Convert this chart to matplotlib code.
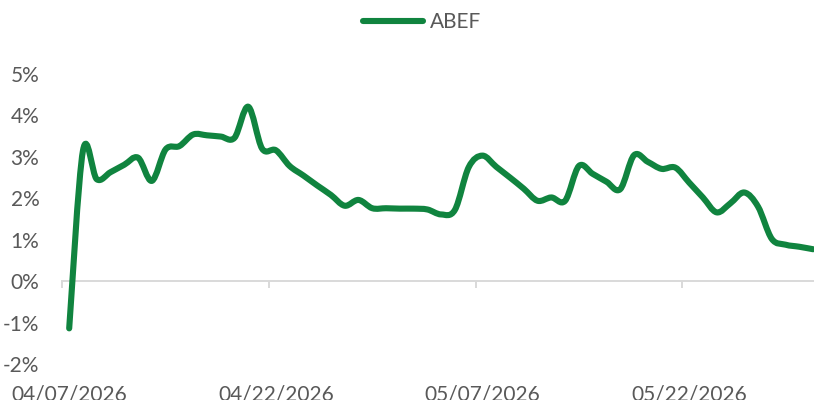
import numpy as np
import pandas as pd
import matplotlib
matplotlib.use('Agg')
import matplotlib.pyplot as plt
import matplotlib.dates as mdates
from matplotlib.path import Path
from matplotlib.patches import PathPatch
from matplotlib.lines import Line2D
from matplotlib.ticker import FuncFormatter

# -------- data (daily values, % ) --------
start_date = '2026-04-07'
series_name = 'ABEF'
abef = [
    -1.14, 3.15, 2.46, 2.63, 2.81, 2.98, 2.42, 3.18, 3.26, 3.54,
    3.52, 3.49, 3.46, 4.21, 3.20, 3.16, 2.78, 2.55, 2.31, 2.08,
    1.82, 1.96, 1.76, 1.76, 1.75, 1.75, 1.73, 1.61, 1.72, 2.75,
    3.03, 2.76, 2.50, 2.23, 1.94, 2.02, 1.94, 2.78, 2.59, 2.40,
    2.22, 3.04, 2.88, 2.71, 2.74, 2.38, 2.02, 1.66, 1.88, 2.14,
    1.80, 1.02, 0.88, 0.83, 0.77,
]
tick_dates = ['2026-04-07', '2026-04-22', '2026-05-07', '2026-05-22']
y_ticks = [-2, -1, 0, 1, 2, 3, 4, 5]

green = '#10843F'
grey_text = '#595959'
axis_grey = '#D9D9D9'

plt.rcParams['font.family'] = ['Lato', 'DejaVu Sans']

# points sit in the middle of each day (Excel date axis style)
dates = pd.date_range(start_date, periods=len(abef)) + pd.Timedelta(hours=12)
x = mdates.date2num(dates)
y = np.array(abef)

fig = plt.figure(figsize=(8.14, 4.0), dpi=100)
W, H = 814, 400
left, right, top, bottom = 62.3, 820.0, 74.0, 364.0
ax = fig.add_axes([left / W, 1 - bottom / H, (right - left) / W, (bottom - top) / H])

# smoothed line, like Excel's "smoothed line" (Catmull-Rom -> cubic Bezier)
pts = np.column_stack([x, y])
n = len(pts)
verts = [pts[0]]
codes = [Path.MOVETO]
for i in range(n - 1):
    p0, p1 = pts[i], pts[i + 1]
    pm = pts[i - 1] if i > 0 else p0
    p2 = pts[i + 2] if i + 2 < n else p1
    verts += [p0 + (p1 - pm) / 6, p1 - (p2 - p0) / 6, p1]
    codes += [Path.CURVE4] * 3
ax.add_patch(PathPatch(Path(verts, codes), facecolor='none', edgecolor=green,
                       lw=4.4, capstyle='round', joinstyle='round', zorder=3))

t0 = mdates.date2num(pd.Timestamp(start_date))
ax.set_xlim(t0, t0 + 55)
ax.set_ylim(-2, 5)

# horizontal axis line at 0 with outward ticks, labels at the bottom
for s in ['top', 'right', 'left']:
    ax.spines[s].set_visible(False)
ax.spines['bottom'].set_position(('data', 0))
ax.spines['bottom'].set_color(axis_grey)
ax.spines['bottom'].set_linewidth(1.4)
ax.set_xticks(mdates.date2num(pd.to_datetime(tick_dates)))
ax.tick_params(axis='x', direction='out', length=5, width=1.4, color=axis_grey,
               labelbottom=False)

sec = ax.secondary_xaxis('bottom')
sec.spines['bottom'].set_visible(False)
sec.set_xticks(mdates.date2num(pd.to_datetime(tick_dates) + pd.Timedelta(hours=12)))
sec.xaxis.set_major_formatter(mdates.DateFormatter('%m/%d/%Y'))
sec.tick_params(axis='x', length=0, pad=15, labelsize=15, labelcolor=grey_text)

ax.set_yticks(y_ticks)
ax.yaxis.set_major_formatter(FuncFormatter(lambda v, p: f'{v:.0f}%'))
ax.tick_params(axis='y', length=0, pad=16.5, labelsize=15, labelcolor=grey_text)

handle = Line2D([], [], color=green, lw=4.4, solid_capstyle='round')
fig.legend([handle], [series_name], loc='center', bbox_to_anchor=(422 / W, 1 - 22 / H),
           frameon=False, fontsize=15, labelcolor=grey_text, handlelength=2.9,
           handletextpad=0.3)

fig.savefig('out.png', dpi=100)
